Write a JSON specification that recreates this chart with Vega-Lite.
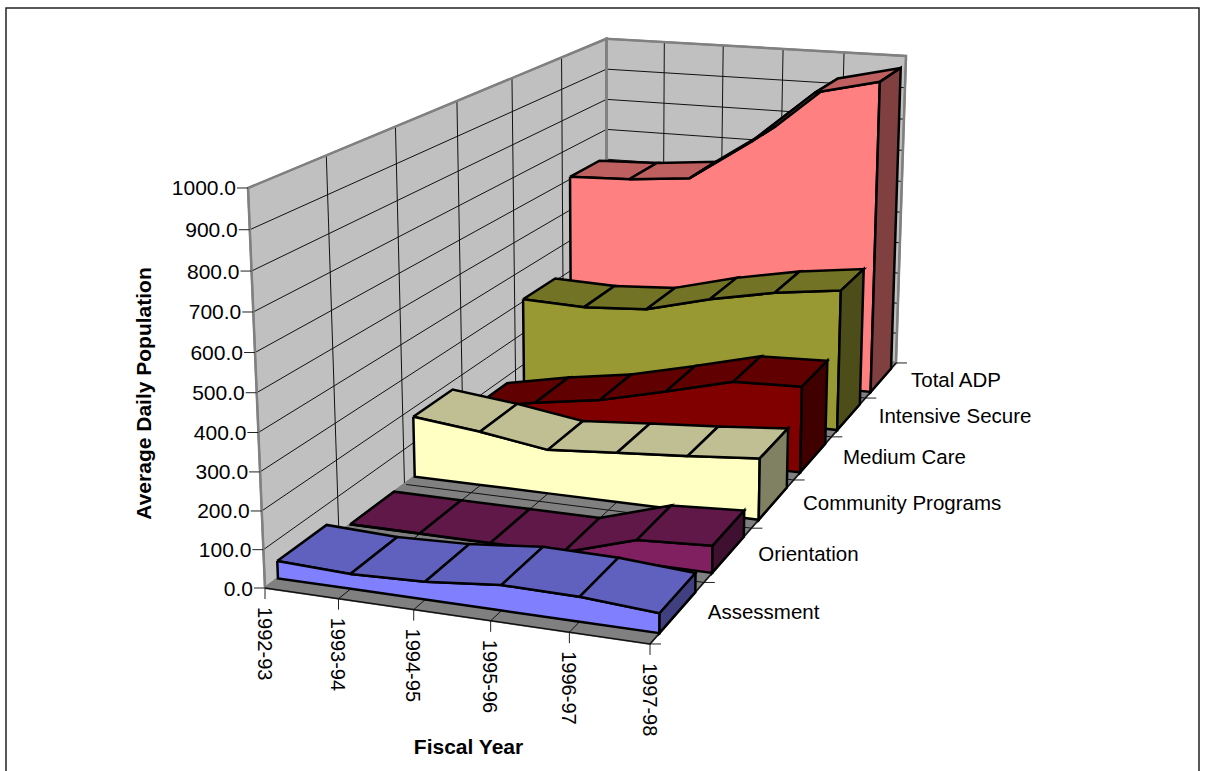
{
"$schema":"https://vega.github.io/schema/vega-lite/v6.json",
"width":1193,"height":766,
"autosize":{"type":"none"},
"padding":{"left":6,"top":8,"right":6,"bottom":0},
"background":"white",
"config":{"view":{"stroke":"#222222","strokeWidth":1.5},"font":"Liberation Sans"},
"resolve":{"scale":{"fill":"independent"}},
"datasets":{
"adp":[
{"series":"Total ADP","depth":5,"year":0,"value":608},{"series":"Total ADP","depth":5,"year":1,"value":615},{"series":"Total ADP","depth":5,"year":2,"value":633},{"series":"Total ADP","depth":5,"year":3,"value":763},{"series":"Total ADP","depth":5,"year":4,"value":928},{"series":"Total ADP","depth":5,"year":5,"value":973},
{"series":"Intensive Secure","depth":4,"year":0,"value":307},{"series":"Intensive Secure","depth":4,"year":1,"value":301},{"series":"Intensive Secure","depth":4,"year":2,"value":313},{"series":"Intensive Secure","depth":4,"year":3,"value":363},{"series":"Intensive Secure","depth":4,"year":4,"value":401},{"series":"Intensive Secure","depth":4,"year":5,"value":426},
{"series":"Medium Care","depth":3,"year":0,"value":78},{"series":"Medium Care","depth":3,"year":1,"value":117},{"series":"Medium Care","depth":3,"year":2,"value":147},{"series":"Medium Care","depth":3,"year":3,"value":194},{"series":"Medium Care","depth":3,"year":4,"value":244},{"series":"Medium Care","depth":3,"year":5,"value":251},
{"series":"Community Programs","depth":2,"year":0,"value":175},{"series":"Community Programs","depth":2,"year":1,"value":154},{"series":"Community Programs","depth":2,"year":2,"value":125},{"series":"Community Programs","depth":2,"year":3,"value":140},{"series":"Community Programs","depth":2,"year":4,"value":154},{"series":"Community Programs","depth":2,"year":5,"value":171},
{"series":"Orientation","depth":1,"year":0,"value":1},{"series":"Orientation","depth":1,"year":1,"value":1},{"series":"Orientation","depth":1,"year":2,"value":1},{"series":"Orientation","depth":1,"year":3,"value":1},{"series":"Orientation","depth":1,"year":4,"value":61},{"series":"Orientation","depth":1,"year":5,"value":72},
{"series":"Assessment","depth":0,"year":0,"value":46},{"series":"Assessment","depth":0,"year":1,"value":39},{"series":"Assessment","depth":0,"year":2,"value":46},{"series":"Assessment","depth":0,"year":3,"value":65},{"series":"Assessment","depth":0,"year":4,"value":63},{"series":"Assessment","depth":0,"year":5,"value":50}
],
"walls":[
{"face":"left","kind":"wall","q":[0,1,2,3,4],"year":[0,0,0,0,0],"depth":[0,0,6,6,0],"value":[0,1000,1000,0,0]},
{"face":"back","kind":"wall","q":[0,1,2,3,4],"year":[0,0,5,5,0],"depth":[6,6,6,6,6],"value":[0,1000,1000,0,0]},
{"face":"floor","kind":"floor","q":[0,1,2,3,4],"year":[0,5,5,0,0],"depth":[0,0,6,6,0],"value":[0,0,0,0,0]}
],
"grid":[
{"id":"v100","q":[0,1,2],"year":[0,0,5],"depth":[0,6,6],"value":[100,100,100]},
{"id":"v200","q":[0,1,2],"year":[0,0,5],"depth":[0,6,6],"value":[200,200,200]},
{"id":"v300","q":[0,1,2],"year":[0,0,5],"depth":[0,6,6],"value":[300,300,300]},
{"id":"v400","q":[0,1,2],"year":[0,0,5],"depth":[0,6,6],"value":[400,400,400]},
{"id":"v500","q":[0,1,2],"year":[0,0,5],"depth":[0,6,6],"value":[500,500,500]},
{"id":"v600","q":[0,1,2],"year":[0,0,5],"depth":[0,6,6],"value":[600,600,600]},
{"id":"v700","q":[0,1,2],"year":[0,0,5],"depth":[0,6,6],"value":[700,700,700]},
{"id":"v800","q":[0,1,2],"year":[0,0,5],"depth":[0,6,6],"value":[800,800,800]},
{"id":"v900","q":[0,1,2],"year":[0,0,5],"depth":[0,6,6],"value":[900,900,900]},
{"id":"d1","q":[0,1,2],"year":[5,0,0],"depth":[1,1,1],"value":[0,0,1000]},
{"id":"d2","q":[0,1,2],"year":[5,0,0],"depth":[2,2,2],"value":[0,0,1000]},
{"id":"d3","q":[0,1,2],"year":[5,0,0],"depth":[3,3,3],"value":[0,0,1000]},
{"id":"d4","q":[0,1,2],"year":[5,0,0],"depth":[4,4,4],"value":[0,0,1000]},
{"id":"d5","q":[0,1,2],"year":[5,0,0],"depth":[5,5,5],"value":[0,0,1000]},
{"id":"y1","q":[0,1,2],"year":[1,1,1],"depth":[0,6,6],"value":[0,0,1000]},
{"id":"y2","q":[0,1,2],"year":[2,2,2],"depth":[0,6,6],"value":[0,0,1000]},
{"id":"y3","q":[0,1,2],"year":[3,3,3],"depth":[0,6,6],"value":[0,0,1000]},
{"id":"y4","q":[0,1,2],"year":[4,4,4],"depth":[0,6,6],"value":[0,0,1000]}
],
"ticks":[
{"kind":"value","year":0,"depth":0,"value":0},{"kind":"value","year":0,"depth":0,"value":100},{"kind":"value","year":0,"depth":0,"value":200},{"kind":"value","year":0,"depth":0,"value":300},{"kind":"value","year":0,"depth":0,"value":400},{"kind":"value","year":0,"depth":0,"value":500},{"kind":"value","year":0,"depth":0,"value":600},{"kind":"value","year":0,"depth":0,"value":700},{"kind":"value","year":0,"depth":0,"value":800},{"kind":"value","year":0,"depth":0,"value":900},{"kind":"value","year":0,"depth":0,"value":1000},
{"kind":"year","year":0,"depth":0,"value":0},{"kind":"year","year":1,"depth":0,"value":0},{"kind":"year","year":2,"depth":0,"value":0},{"kind":"year","year":3,"depth":0,"value":0},{"kind":"year","year":4,"depth":0,"value":0},{"kind":"year","year":5,"depth":0,"value":0},
{"kind":"depth","year":5,"depth":0,"value":0},{"kind":"depth","year":5,"depth":1,"value":0},{"kind":"depth","year":5,"depth":2,"value":0},{"kind":"depth","year":5,"depth":3,"value":0},{"kind":"depth","year":5,"depth":4,"value":0},{"kind":"depth","year":5,"depth":5,"value":0},{"kind":"depth","year":5,"depth":6,"value":0}
],
"yearLabels":[
{"label":"1992-93","year":0,"depth":0,"value":0},{"label":"1993-94","year":1,"depth":0,"value":0},{"label":"1994-95","year":2,"depth":0,"value":0},{"label":"1995-96","year":3,"depth":0,"value":0},{"label":"1996-97","year":4,"depth":0,"value":0},{"label":"1997-98","year":5,"depth":0,"value":0}
],
"seriesLabels":[
{"label":"Assessment","year":5,"depth":0.5,"value":0},{"label":"Orientation","year":5,"depth":1.5,"value":0},{"label":"Community Programs","year":5,"depth":2.5,"value":0},{"label":"Medium Care","year":5,"depth":3.5,"value":0},{"label":"Intensive Secure","year":5,"depth":4.5,"value":0},{"label":"Total ADP","year":5,"depth":5.5,"value":0}
]
},
"encoding":{
"x":{"field":"sx","type":"quantitative","scale":{"domain":[6,1199],"nice":false,"zero":false},
 "axis":{"orient":"top","title":"Fiscal Year","domain":false,"ticks":false,"labels":false,"grid":false,"titleFont":"Liberation Sans","titleFontSize":21,"titleFontWeight":"bold","titleColor":"black","titleX":462,"titleY":739,"titleAlign":"center","titleBaseline":"middle"}},
"y":{"field":"sy","type":"quantitative","scale":{"domain":[774,8],"nice":false,"zero":false},
 "axis":{"title":"Average Daily Population","domain":false,"ticks":false,"labels":false,"grid":false,"titleFont":"Liberation Sans","titleFontSize":21,"titleFontWeight":"bold","titleColor":"black","titleX":138,"titleY":385,"titleAngle":-90,"titleAlign":"center","titleBaseline":"middle"}}
},
"layer":[
{"data":{"name":"walls"},
 "transform":[{"flatten":["q","year","depth","value"]},
  {"calculate":"(265+69.72*datum.year+95.3*datum.depth-0.0284*datum.value)/(1-0.0112*datum.year+0.06317*datum.depth-0.000046*datum.value)","as":"sx"},
  {"calculate":"(588+3.98*datum.year-21.283*datum.depth-0.40865*datum.value)/(1-0.0112*datum.year+0.06317*datum.depth-0.000046*datum.value)","as":"sy"}],
 "mark":{"type":"line","stroke":"#808080","strokeWidth":2,"strokeJoin":"miter","clip":false},
 "encoding":{"detail":{"field":"face"},"order":{"field":"q","type":"quantitative"},
  "fill":{"field":"kind","type":"nominal","scale":{"domain":["wall","floor"],"range":["#c0c0c0","#808080"]},"legend":null}}},
{"data":{"name":"grid"},
 "transform":[{"flatten":["q","year","depth","value"]},
  {"calculate":"(265+69.72*datum.year+95.3*datum.depth-0.0284*datum.value)/(1-0.0112*datum.year+0.06317*datum.depth-0.000046*datum.value)","as":"sx"},
  {"calculate":"(588+3.98*datum.year-21.283*datum.depth-0.40865*datum.value)/(1-0.0112*datum.year+0.06317*datum.depth-0.000046*datum.value)","as":"sy"}],
 "mark":{"type":"line","stroke":"#111111","strokeWidth":1},
 "encoding":{"detail":{"field":"id"},"order":{"field":"q","type":"quantitative"}}},
{"data":{"name":"walls"},
 "transform":[{"filter":"datum.kind=='wall'"},{"flatten":["q","year","depth","value"]},
  {"calculate":"(265+69.72*datum.year+95.3*datum.depth-0.0284*datum.value)/(1-0.0112*datum.year+0.06317*datum.depth-0.000046*datum.value)","as":"sx"},
  {"calculate":"(588+3.98*datum.year-21.283*datum.depth-0.40865*datum.value)/(1-0.0112*datum.year+0.06317*datum.depth-0.000046*datum.value)","as":"sy"}],
 "mark":{"type":"line","stroke":"#808080","strokeWidth":2.5,"strokeJoin":"miter"},
 "encoding":{"detail":{"field":"face"},"order":{"field":"q","type":"quantitative"}}},
{"data":{"name":"ticks"},
 "transform":[
  {"calculate":"(265+69.72*datum.year+95.3*datum.depth-0.0284*datum.value)/(1-0.0112*datum.year+0.06317*datum.depth-0.000046*datum.value)","as":"sx"},
  {"calculate":"(588+3.98*datum.year-21.283*datum.depth-0.40865*datum.value)/(1-0.0112*datum.year+0.06317*datum.depth-0.000046*datum.value)","as":"sy"},
  {"calculate":"datum.sx+(datum.kind=='value'?-11:datum.kind=='depth'?11:0)","as":"ex"},
  {"calculate":"datum.sy+(datum.kind=='year'?11:0)","as":"ey"}],
 "mark":{"type":"rule","stroke":"#222222","strokeWidth":1},
 "encoding":{"x2":{"field":"ex"},"y2":{"field":"ey"}}},
{"data":{"name":"grid"},
 "transform":[{"filter":"datum.id=='d1'"},{"calculate":"[0,1,2]","as":"q"},{"calculate":"[0,5,5]","as":"year"},{"calculate":"[0,0,6]","as":"depth"},{"calculate":"[0,0,0]","as":"value"},{"flatten":["q","year","depth","value"]},
  {"calculate":"(265+69.72*datum.year+95.3*datum.depth-0.0284*datum.value)/(1-0.0112*datum.year+0.06317*datum.depth-0.000046*datum.value)","as":"sx"},
  {"calculate":"(588+3.98*datum.year-21.283*datum.depth-0.40865*datum.value)/(1-0.0112*datum.year+0.06317*datum.depth-0.000046*datum.value)","as":"sy"}],
 "mark":{"type":"line","stroke":"#111111","strokeWidth":1.5},
 "encoding":{"order":{"field":"q","type":"quantitative"}}},
{"data":{"name":"ticks"},
 "transform":[{"filter":"datum.kind=='value'"},
  {"calculate":"(265+69.72*datum.year+95.3*datum.depth-0.0284*datum.value)/(1-0.0112*datum.year+0.06317*datum.depth-0.000046*datum.value)","as":"sx"},
  {"calculate":"(588+3.98*datum.year-21.283*datum.depth-0.40865*datum.value)/(1-0.0112*datum.year+0.06317*datum.depth-0.000046*datum.value)","as":"sy"}],
 "mark":{"type":"text","font":"Liberation Sans","fontSize":21,"align":"right","baseline":"middle","dx":-12,"dy":1.5,"color":"black"},
 "encoding":{"text":{"field":"value","type":"quantitative","format":".1f"}}},
{"data":{"name":"yearLabels"},
 "transform":[
  {"calculate":"(265+69.72*datum.year+95.3*datum.depth-0.0284*datum.value)/(1-0.0112*datum.year+0.06317*datum.depth-0.000046*datum.value)","as":"sx"},
  {"calculate":"(588+3.98*datum.year-21.283*datum.depth-0.40865*datum.value)/(1-0.0112*datum.year+0.06317*datum.depth-0.000046*datum.value)","as":"sy"}],
 "mark":{"type":"text","font":"Liberation Sans","fontSize":20,"align":"left","baseline":"middle","angle":90,"dx":19,"dy":1.5,"color":"black"},
 "encoding":{"text":{"field":"label"}}},
{"data":{"name":"seriesLabels"},
 "transform":[
  {"calculate":"(265+69.72*datum.year+95.3*datum.depth-0.0284*datum.value)/(1-0.0112*datum.year+0.06317*datum.depth-0.000046*datum.value)","as":"sx"},
  {"calculate":"(588+3.98*datum.year-21.283*datum.depth-0.40865*datum.value)/(1-0.0112*datum.year+0.06317*datum.depth-0.000046*datum.value)","as":"sy"}],
 "mark":{"type":"text","font":"Liberation Sans","fontSize":20.5,"align":"left","baseline":"middle","dx":30,"dy":0.5,"color":"black"},
 "encoding":{"text":{"field":"label"}}},
{"data":{"name":"adp"},
 "transform":[
  {"window":[{"op":"lead","field":"value","as":"next"}],"groupby":["series"],"sort":[{"field":"year","order":"ascending"}]},
  {"calculate":"[{k:'top'+datum.year,t:'top',q:0,y:datum.year,d:datum.depth+1/6,v:datum.value},{k:'top'+datum.year,t:'top',q:1,y:datum.year+1,d:datum.depth+1/6,v:datum.next},{k:'top'+datum.year,t:'top',q:2,y:datum.year+1,d:datum.depth+5/6,v:datum.next},{k:'top'+datum.year,t:'top',q:3,y:datum.year,d:datum.depth+5/6,v:datum.value},{k:'top'+datum.year,t:'top',q:4,y:datum.year,d:datum.depth+1/6,v:datum.value},{k:'front',t:'front',q:datum.year,y:datum.year,d:datum.depth+1/6,v:datum.value},{k:'front',t:'front',q:11-datum.year,y:datum.year,d:datum.depth+1/6,v:0},{k:'front',t:'front',q:12,y:datum.year,d:datum.depth+1/6,v:datum.value},{k:'right',t:'right',q:0,y:5,d:datum.depth+1/6,v:datum.value},{k:'right',t:'right',q:1,y:5,d:datum.depth+5/6,v:datum.value},{k:'right',t:'right',q:2,y:5,d:datum.depth+5/6,v:0},{k:'right',t:'right',q:3,y:5,d:datum.depth+1/6,v:0},{k:'right',t:'right',q:4,y:5,d:datum.depth+1/6,v:datum.value}]","as":"verts"},
  {"flatten":["verts"]},
  {"filter":"(datum.verts.t=='top' && datum.year<5) || (datum.verts.t=='right' && datum.year==5) || (datum.verts.t=='front' && (datum.verts.q<12 || datum.year==0))"},
  {"calculate":"datum.series+'|'+datum.verts.k","as":"face"},
  {"calculate":"datum.series+'|'+datum.verts.t","as":"shade"},
  {"calculate":"datum.verts.q","as":"q"},
  {"calculate":"(265+69.72*datum.verts.y+95.3*datum.verts.d-0.0284*datum.verts.v)/(1-0.0112*datum.verts.y+0.06317*datum.verts.d-0.000046*datum.verts.v)","as":"sx"},
  {"calculate":"(588+3.98*datum.verts.y-21.283*datum.verts.d-0.40865*datum.verts.v)/(1-0.0112*datum.verts.y+0.06317*datum.verts.d-0.000046*datum.verts.v)","as":"sy"}],
 "mark":{"type":"line","stroke":"black","strokeWidth":2.5,"strokeJoin":"miter"},
 "encoding":{"detail":{"field":"face"},"order":{"field":"q","type":"quantitative"},
  "fill":{"field":"shade","type":"nominal","legend":null,"scale":{
   "domain":["Total ADP|front","Total ADP|top","Total ADP|right","Intensive Secure|front","Intensive Secure|top","Intensive Secure|right","Medium Care|front","Medium Care|top","Medium Care|right","Community Programs|front","Community Programs|top","Community Programs|right","Orientation|front","Orientation|top","Orientation|right","Assessment|front","Assessment|top","Assessment|right"],
   "range":["#ff8080","#bf6060","#804040","#999933","#737326","#4d4d1a","#800000","#600000","#400000","#ffffc4","#bfbf93","#808062","#802060","#601848","#401030","#8080ff","#6060bf","#404080"]}}}}
]
}
